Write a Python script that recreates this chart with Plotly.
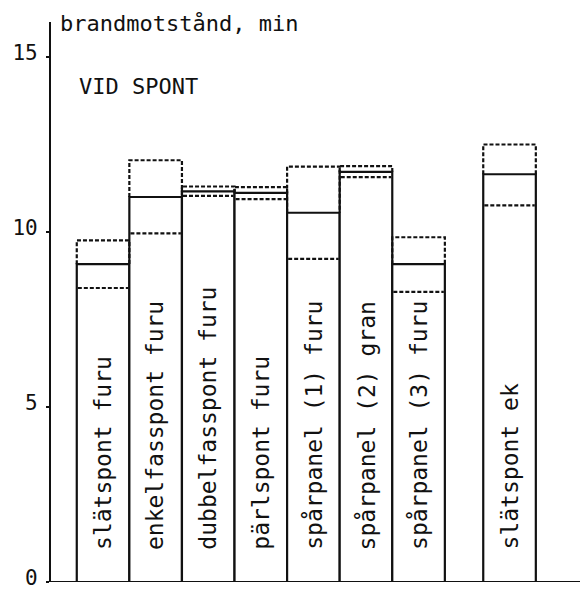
import plotly.graph_objects as go

# Fire resistance (minutes) of tongue-and-groove wall panels
categories = [
    "slätspont furu",
    "enkelfasspont furu",
    "dubbelfasspont furu",
    "pärlspont furu",
    "spårpanel (1) furu",
    "spårpanel (2) gran",
    "spårpanel (3) furu",
    "slätspont ek",
]
mean_min = [9.08, 11.0, 11.16, 11.12, 10.55, 11.72, 9.08, 11.65]
low_min = [8.40, 9.96, 11.03, 10.94, 9.23, 11.57, 8.29, 10.76]
high_min = [9.76, 12.05, 11.30, 11.28, 11.87, 11.88, 9.85, 12.50]
y_ticks = [0, 5, 10, 15]
y_title = "brandmotstånd, min"
subtitle = "VID SPONT"

FONT = "DejaVu Sans Mono"
INK = "#111111"
GAP = 0.73  # extra space before the oak panel
pos = [i if i < 7 else i + GAP for i in range(len(categories))]
half = 0.5

fig = go.Figure()

# solid part of each column: 0 up to the mean value
fig.add_trace(go.Bar(
    x=pos, y=mean_min, width=1.0,
    marker=dict(color="white", line=dict(color=INK, width=2.2)),
    hoverinfo="skip", showlegend=False,
))

# dashed box from the mean up to the highest value, dashed line at the lowest
for p, m, lo, hi in zip(pos, mean_min, low_min, high_min):
    fig.add_trace(go.Scatter(
        x=[p - half, p - half, p + half, p + half], y=[m, hi, hi, m],
        mode="lines", line=dict(color=INK, width=2.2, dash="4px,2px"),
        hoverinfo="skip", showlegend=False,
    ))
    fig.add_trace(go.Scatter(
        x=[p - half + 0.02, p + half - 0.02], y=[lo, lo],
        mode="lines", line=dict(color=INK, width=2.2, dash="4px,2px"),
        hoverinfo="skip", showlegend=False,
    ))

# vertical labels inside the columns
for p, name in zip(pos, categories):
    fig.add_annotation(
        x=p, y=0.86, xref="x", yref="y", text=name, textangle=-90,
        showarrow=False, xanchor="center", yanchor="bottom",
        font=dict(family=FONT, size=23, color=INK),
    )

fig.add_annotation(
    x=0.013, y=15.95, xref="paper", yref="y", text=y_title,
    showarrow=False, xanchor="left", yanchor="middle",
    font=dict(family=FONT, size=22, color=INK),
)
fig.add_annotation(
    x=0.049, y=14.17, xref="paper", yref="y", text=subtitle,
    showarrow=False, xanchor="left", yanchor="middle",
    font=dict(family=FONT, size=22, color=INK),
)

# baseline, running slightly left of the value axis
fig.add_shape(
    type="line", xref="paper", yref="y", x0=-4 / 529, x1=1, y0=0, y1=0,
    line=dict(color=INK, width=2.2),
)

fig.update_layout(
    width=580, height=591,
    margin=dict(l=51, r=0, t=22, b=9),
    paper_bgcolor="white", plot_bgcolor="white",
    barmode="overlay",
    xaxis=dict(range=[-0.99, 9.07], visible=False, fixedrange=True),
    yaxis=dict(
        range=[0, 16], tickvals=y_ticks, ticks="outside", ticklen=3,
        tickwidth=2, tickcolor=INK, showline=True, linecolor=INK,
        linewidth=2.2, showgrid=False, zeroline=False,
        ticklabelstandoff=4, ticklabeloverflow="allow",
        ticklabelshift=-4, automargin=False,
        tickfont=dict(family=FONT, size=21, color=INK),
    ),
)

fig.write_html("out.html")
